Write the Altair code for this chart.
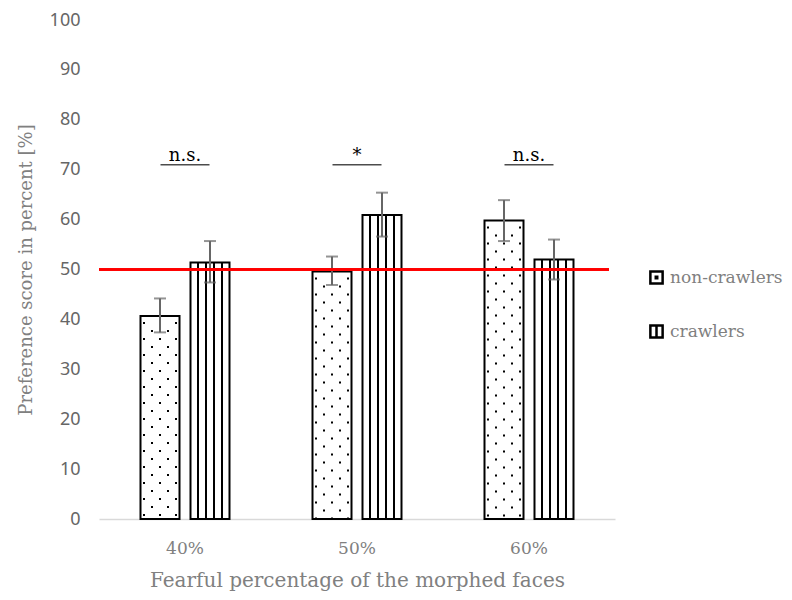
import altair as alt
import pandas as pd

categories = ["40%", "50%", "60%"]
groups = ["non-crawlers", "crawlers"]
mean_non = [40.7, 49.6, 59.8]
mean_cr = [51.4, 60.9, 52.0]
lo_non = [37.4, 46.9, 55.7]
hi_non = [44.2, 52.6, 63.9]
lo_cr = [47.4, 56.6, 48.0]
hi_cr = [55.7, 65.4, 56.0]
sig_labels = ["n.s.", "*", "n.s."]
sig_level = [71, 71, 71]
chance_level = 50

rows = []
for i, c in enumerate(categories):
    rows.append(dict(cat=c, grp=groups[0], mean=mean_non[i], lo=lo_non[i], hi=hi_non[i]))
    rows.append(dict(cat=c, grp=groups[1], mean=mean_cr[i], lo=lo_cr[i], hi=hi_cr[i]))
df = pd.DataFrame(rows)
sig_df = pd.DataFrame(dict(cat=categories, label=sig_labels, level=sig_level))

GRAY = "#666666"
TGRAY = "#808080"
SERIF = "DejaVu Serif"
SANS = "Noto Sans"

xscale = alt.Scale(paddingInner=0.4826, paddingOuter=0.2413)
yscale = alt.Scale(domain=[0, 100])
XT = "Fearful percentage of the morphed faces"
YT = "Preference score in percent [%]"


def X():
    return alt.X("cat:N", sort=categories, scale=xscale, title=XT,
                 axis=alt.Axis(labelAngle=0, ticks=False, domainColor="#d9d9d9",
                               domainWidth=1.5, labelPadding=21, labelFont=SERIF,
                               labelFontSize=17, labelColor=TGRAY, titleFont=SERIF,
                               titleFontSize=20, titleColor=TGRAY,
                               titleFontWeight="normal", titlePadding=14))


def Y(field):
    return alt.Y(field, scale=yscale, title=YT,
                 axis=alt.Axis(values=list(range(0, 101, 10)), ticks=False, domain=False,
                               grid=False, labelPadding=19, labelFont=SANS,
                               labelFontSize=18, labelColor=GRAY, titleFont=SERIF,
                               titleFontSize=18, titleColor=TGRAY,
                               titleFontWeight="normal", titlePadding=14))


XO = alt.XOffset("grp:N", sort=groups, scale=alt.Scale(paddingInner=0.22, paddingOuter=0))

base = alt.Chart(df)

# legend carrier points (hidden behind the bars)
path_nc = "M-1,-1H1V1H-1Z M-0.12,-0.12H0.12V0.12H-0.12Z"
path_cr = "M-1,-1H1V1H-1Z M0,-1V1"
legend_pts = base.mark_point(filled=False, color="black", strokeWidth=2.5,
                             size=150, opacity=1).encode(
    x=X(), xOffset=XO, y=Y("lo:Q"),
    shape=alt.Shape("grp:N", sort=groups,
                    scale=alt.Scale(domain=groups, range=[path_nc, path_cr]),
                    legend=alt.Legend(title=None, orient="none", legendX=549, legendY=249,
                                      symbolSize=150, symbolStrokeWidth=2.5,
                                      symbolStrokeColor="black",
                                      symbolOpacity=1, labelFont=SERIF, labelFontSize=17,
                                      labelColor=TGRAY, rowPadding=31, labelOffset=5)))

bars = base.mark_bar(fill="white", stroke="black", strokeWidth=2).encode(
    x=X(), xOffset=XO, y=Y("mean:Q"))

layers = [legend_pts, bars]

# vertical stripes in crawler bars
for off in [-12, -4, 4, 12]:
    layers.append(
        base.transform_filter(alt.datum.grp == groups[1])
        .mark_rule(xOffset=25 + off, stroke="black", strokeWidth=2)
        .encode(x=X(), y=Y("mean:Q"), y2=alt.datum(0))
    )

# dotted texture in non-crawler bars
for k, off in enumerate([-16, -8, 0, 8, 16]):
    layers.append(
        base.transform_filter(alt.datum.grp == groups[0])
        .mark_rule(xOffset=-25 + off, stroke="black", strokeWidth=2,
                   strokeDash=[2, 14], strokeDashOffset=10 if k % 2 == 0 else 2)
        .encode(x=X(), y=Y("mean:Q"), y2=alt.datum(0))
    )

err = base.mark_rule(stroke=GRAY, strokeWidth=2).encode(
    x=X(), xOffset=XO, y=Y("hi:Q"), y2="lo:Q")
cap_hi = base.mark_tick(orient="horizontal", size=12, thickness=2, color=GRAY).encode(
    x=X(), xOffset=XO, y=Y("hi:Q"))
cap_lo = base.mark_tick(orient="horizontal", size=12, thickness=2, color=GRAY).encode(
    x=X(), xOffset=XO, y=Y("lo:Q"))
layers += [err, cap_hi, cap_lo]

red = alt.Chart(df).mark_rule(color="#ff0000", strokeWidth=2).encode(
    y=alt.datum(chance_level), x=alt.value(0), x2=alt.value(510))
layers.append(red)

sig_line = alt.Chart(sig_df).mark_tick(orient="horizontal", size=49, thickness=1.5,
                                       color="black").encode(x=X(), y=Y("level:Q"))
sig_text = alt.Chart(sig_df).mark_text(font=SERIF, fontSize=18, color="black",
                                       baseline="alphabetic", dy=-4).encode(
    x=X(), y=Y("level:Q"), text="label:N")
layers += [sig_line, sig_text]

chart = alt.layer(*layers).properties(
    width=516, height=499,
    padding={"left": 91, "top": 12, "right": 168, "bottom": 78},
    autosize=alt.AutoSizeParams(type="none"),
    background="white",
).configure_view(strokeWidth=0)

chart.save("out.html", embed_options={"renderer": "svg", "actions": False})
